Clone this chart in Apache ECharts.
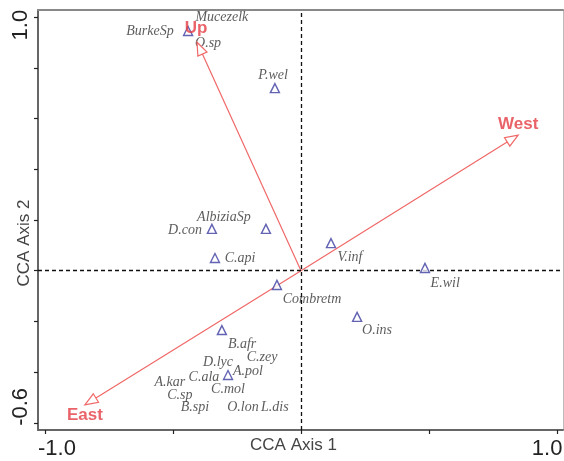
<!DOCTYPE html>
<html>
<head>
<meta charset="utf-8">
<script src="https://cdn.jsdelivr.net/npm/echarts@6/dist/echarts.min.js"></script>
<style>html,body{margin:0;padding:0;background:#fff}#c{width:564px;height:461px}</style>
</head>
<body>
<div id="c"></div>
<script>
// Species points with visible triangles [x, y]
const speciesPoints = [
  [-0.441, 0.945], [-0.102, 0.720], [-0.348, 0.165], [-0.137, 0.165],
  [-0.336, 0.050], [0.117, 0.109], [-0.094, -0.056], [0.219, -0.182],
  [0.484, 0.011], [-0.309, -0.234], [-0.285, -0.411]
];
// Species label names and label positions
const speciesNames = ['Mucezelk','BurkeSp','O.sp','P.wel','D.con','AlbiziaSp','C.api','V.inf','Combretm','O.ins','E.wil',
  'B.afr','C.zey','D.lyc','A.pol','A.kar','C.ala','C.mol','C.sp','B.spi','O.lon','L.dis'];
const speciesLabelX = [-0.309,-0.590,-0.363,-0.109,-0.453,-0.301,-0.238,0.191,0.043,0.297,0.563,
  -0.230,-0.152,-0.324,-0.207,-0.512,-0.379,-0.285,-0.473,-0.414,-0.227,-0.102];
const speciesLabelY = [1.000,0.945,0.898,0.771,0.161,0.212,0.050,0.054,-0.112,-0.234,-0.048,
  -0.289,-0.340,-0.360,-0.395,-0.439,-0.419,-0.466,-0.490,-0.537,-0.537,-0.537];
// Environmental arrows
const envNames = ['Up','West','East'];
const envX = [-0.406, 0.848, -0.844];
const envY = [0.901, 0.535, -0.529];
const envLabelX = [-0.410, 0.848, -0.844];
const envLabelY = [0.957, 0.578, -0.572];
// Axis ticks and labels
const xTicks = [-1, -0.5, 0, 0.5, 1];
const xTickLabels = [-1, 1];
const yTicks = [-0.6, -0.4, -0.2, 0, 0.2, 0.4, 0.6, 0.8, 1.0];
const yTickLabels = [-0.6, 1.0];

const RED = '#f06868';
const chart = echarts.init(document.getElementById('c'));
const option = {
  animation: false,
  backgroundColor: '#fff',
  grid: { left: 38, right: 1, top: 10, bottom: 31, containLabel: false, outerBoundsMode: 'none' },
  xAxis: [{
    type: 'value', min: -1.027, max: 1.023,
    name: 'CCA Axis 1', nameLocation: 'middle', nameGap: 7, nameMoveOverlap: false,
    nameTextStyle: { fontFamily: 'Liberation Sans, Arial', fontSize: 17, color: '#444', padding: [0, 14, 0, 0] },
    axisLine: { show: true, onZero: false, lineStyle: { color: '#666', width: 2 } },
    axisTick: { show: true, customValues: xTicks, length: 4, lineStyle: { color: '#222', width: 1.2 } },
    axisLabel: { show: true, customValues: xTickLabels, fontFamily: 'Liberation Sans, Arial',
      fontSize: 22, color: '#222', margin: 8, alignMinLabel: 'center', alignMaxLabel: 'center',
      formatter: v => (v < 0 ? '{l|' : '{r|') + v.toFixed(1) + '}',
      rich: { l: { fontSize: 22, padding: [0, 0, 0, 24] }, r: { fontSize: 22, padding: [0, 20, 0, 0] } } },
    splitLine: { show: false }
  }, {
    type: 'value', position: 'top', min: -1.027, max: 1.023,
    axisLine: { show: true, onZero: false, lineStyle: { color: '#888', width: 2 } },
    axisTick: { show: false }, axisLabel: { show: false }, splitLine: { show: false }
  }],
  yAxis: [{
    type: 'value', min: -0.628, max: 1.028,
    name: 'CCA Axis 2', nameLocation: 'middle', nameGap: 5, nameRotate: 90, nameMoveOverlap: false,
    nameTextStyle: { fontFamily: 'Liberation Sans, Arial', fontSize: 17, color: '#444', padding: [0, 46, 0, 0] },
    axisLine: { show: true, onZero: false, lineStyle: { color: '#666', width: 2 } },
    axisTick: { show: true, customValues: yTicks, length: 4, lineStyle: { color: '#222', width: 1.2 } },
    axisLabel: { show: true, customValues: yTickLabels, rotate: 90, fontFamily: 'Liberation Sans, Arial',
      fontSize: 22, color: '#222', margin: 6,
      formatter: v => (v < 0 ? '{l|' : '{r|') + v.toFixed(1) + '}',
      rich: { l: { fontSize: 22, padding: [0, 0, 0, 32] }, r: { fontSize: 22, padding: [0, 16, 0, 0] } } },
    splitLine: { show: false }
  }, {
    type: 'value', position: 'right', min: -0.628, max: 1.028,
    axisLine: { show: true, onZero: false, lineStyle: { color: '#bbb', width: 1 } },
    axisTick: { show: false }, axisLabel: { show: false }, splitLine: { show: false }
  }],
  series: [
    {
      type: 'scatter', name: 'labels', silent: true, z: 3,
      data: speciesNames.map((n, i) => ({ name: n, value: [speciesLabelX[i], speciesLabelY[i]] })),
      symbolSize: 0,
      label: { show: true, position: 'inside', formatter: p => p.name, fontFamily: 'Liberation Serif, Times New Roman',
        fontStyle: 'italic', fontSize: 14, color: '#333' },
      markLine: {
        silent: true, symbol: ['none', 'none'], label: { show: false },
        lineStyle: { type: [4, 3], color: '#111', width: 1.3 },
        data: [{ xAxis: 0 }, { yAxis: 0 }]
      }
    },
    {
      type: 'custom', name: 'arrows', z: 4,
      data: envNames.map((n, i) => [envX[i], envY[i]]),
      renderItem: function (params, api) {
        const p0 = api.coord([0, 0]);
        const p1 = api.coord([api.value(0), api.value(1)]);
        const dx = p1[0] - p0[0], dy = p1[1] - p0[1];
        const L = Math.hypot(dx, dy), ux = dx / L, uy = dy / L;
        const hl = 13, hw = 5;
        const b = [p1[0] - ux * hl, p1[1] - uy * hl];
        const l = [b[0] - uy * hw, b[1] + ux * hw], r = [b[0] + uy * hw, b[1] - ux * hw];
        return { type: 'group', children: [
          { type: 'line', shape: { x1: p0[0], y1: p0[1], x2: b[0], y2: b[1] }, style: { stroke: RED, lineWidth: 1.2 } },
          { type: 'polygon', shape: { points: [p1, l, r] }, style: { fill: '#fff', stroke: RED, lineWidth: 1.2 } }
        ] };
      }
    },
    {
      type: 'scatter', name: 'species', z: 5,
      data: speciesPoints,
      symbol: 'triangle', symbolSize: 9,
      itemStyle: { color: '#fff', borderColor: '#3c3ca0', borderWidth: 1.4 }
    },
    {
      type: 'scatter', name: 'envLabels', silent: true, z: 7,
      data: envNames.map((n, i) => ({ name: n, value: [envLabelX[i], envLabelY[i]] })),
      symbolSize: 0,
      label: { show: true, position: 'inside', formatter: p => p.name, fontFamily: 'Liberation Sans, Arial',
        fontWeight: 'bold', fontSize: 17, color: '#e43c44' }
    }
  ]
};
chart.setOption(option);
</script>
</body>
</html>
